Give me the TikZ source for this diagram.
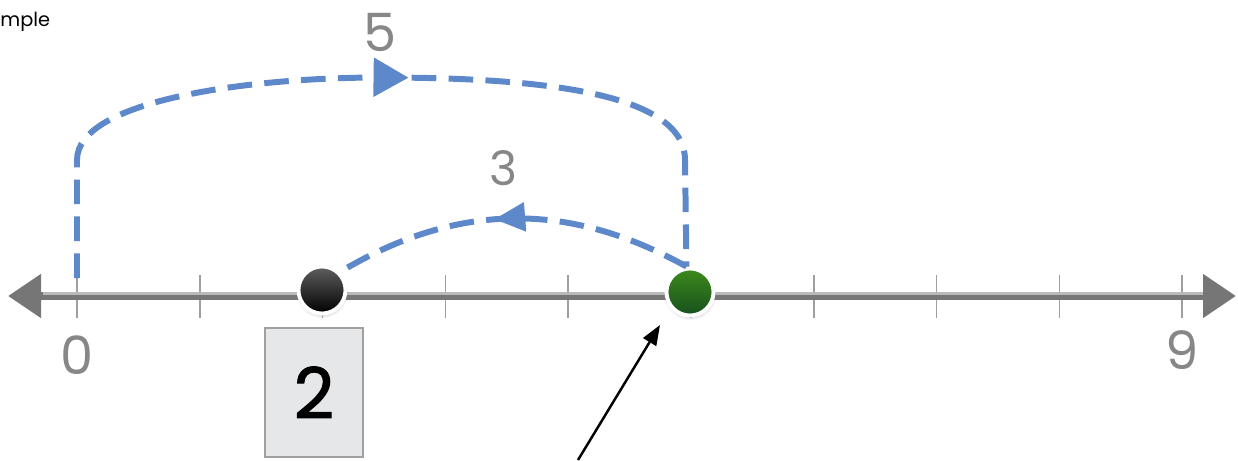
\documentclass[tikz,border=0pt]{standalone}
\usepackage{fontspec}
\setmainfont{Poppins}
\newfontfamily\answerfont[FakeBold=1.6]{Poppins}
\usetikzlibrary{arrows.meta,decorations.markings,shadows}
\definecolor{jumpblue}{RGB}{93,137,202}
\definecolor{numgray}{RGB}{135,135,135}
\definecolor{axisgray}{RGB}{118,118,118}
\definecolor{boxfill}{RGB}{230,231,233}
\definecolor{boxline}{RGB}{160,160,160}
\definecolor{greentop}{RGB}{62,138,28}
\definecolor{greenbot}{RGB}{22,80,30}

\begin{document}
\begin{tikzpicture}[>={Stealth[length=1.6mm]},
  jump/.style={jumpblue, line width=3.4pt, dash pattern=on 14pt off 7pt},
  axistick/.style={gray!75, line width=1pt},
  numlabel/.style={numgray, font=\fontsize{30}{30}\selectfont},
  dot/.style={circle, draw=white, line width=2.2pt, minimum size=0.94cm, inner sep=0pt,
    circular drop shadow={shadow xshift=0pt, shadow yshift=-1pt, opacity=0.25, shadow scale=1.12}}]
  \useasboundingbox (0,0) rectangle (24.76,9.2);
  \node[anchor=base west, inner sep=0pt, font=\fontsize{11}{11}\selectfont] (title) at (0,8.66) {mple};
  % ticks
  \draw[axistick] (1.54,2.84) -- (1.54,3.70);
  \draw[axistick] (3.996,2.84) -- (3.996,3.70);
  \draw[axistick] (6.452,2.84) -- (6.452,3.70);
  \draw[axistick] (8.908,2.84) -- (8.908,3.70);
  \draw[axistick] (11.364,2.84) -- (11.364,3.70);
  \draw[axistick] (13.82,2.84) -- (13.82,3.70);
  \draw[axistick] (16.276,2.84) -- (16.276,3.70);
  \draw[axistick] (18.732,2.84) -- (18.732,3.70);
  \draw[axistick] (21.188,2.84) -- (21.188,3.70);
  \draw[axistick] (23.644,2.84) -- (23.644,3.70);
  % number line
  \coordinate (axL) at (0.16,3.28);
  \coordinate (axR) at (24.72,3.28);
  \draw[{Triangle[length=0.66cm,width=0.84cm]}-{Triangle[length=0.66cm,width=0.84cm]}, axisgray, line width=4.5pt] (axL) -- (axR);
  \draw[gray!55, line width=1.2pt] (0.85,3.33) -- (24.05,3.33);
  % points
  \node[dot, top color=gray!75!black, bottom color=black] (ptA) at (6.44,3.40) {};
  \node[dot, top color=greentop, bottom color=greenbot] (ptB) at (13.8,3.36) {};
  % jumps
  \coordinate (start5) at (1.54,3.64);
  \draw[jump, postaction={decorate}, decoration={markings, mark=at position 0.535 with {\arrow{Triangle[length=0.7cm,width=0.76cm]}}}]
    (start5) -- (1.54,6.0) .. controls (1.54,7.2) and (5,7.65) .. (7.6,7.65) .. controls (11,7.65) and (13.7,7.3) .. (13.7,6.0) -- ([xshift=-2pt]ptB.north);
  \draw[jump, postaction={decorate}, decoration={markings, mark=at position 0.55 with {\arrow{Triangle[length=0.62cm,width=0.56cm]}}}]
    ([xshift=-2pt]ptB.north) to[bend right=30] (ptA.north east);
  % labels
  \node[numlabel] (lab0) at (1.54,2.1) {0};
  \node[numlabel] (lab9) at (23.64,2.2) {9};
  \node[numlabel] (lab5) at (7.6,8.56) {5};
  \node[numlabel, font=\fontsize{27}{27}\selectfont] (lab3) at (10.06,5.84) {3};
  \node[draw=boxline, fill=boxfill, line width=1.2pt, minimum width=1.96cm, minimum height=2.58cm,
    font=\fontsize{40}{40}\answerfont] (ans) at (6.28,1.35) {2};
  % pointer
  \coordinate (ptrtail) at (11.56,0);
  \coordinate (ptrhead) at (13.2,2.7);
  \draw[-{Triangle[length=0.4cm,width=0.3cm]}, line width=1.4pt] (ptrtail) -- (ptrhead);
\end{tikzpicture}
\end{document}
